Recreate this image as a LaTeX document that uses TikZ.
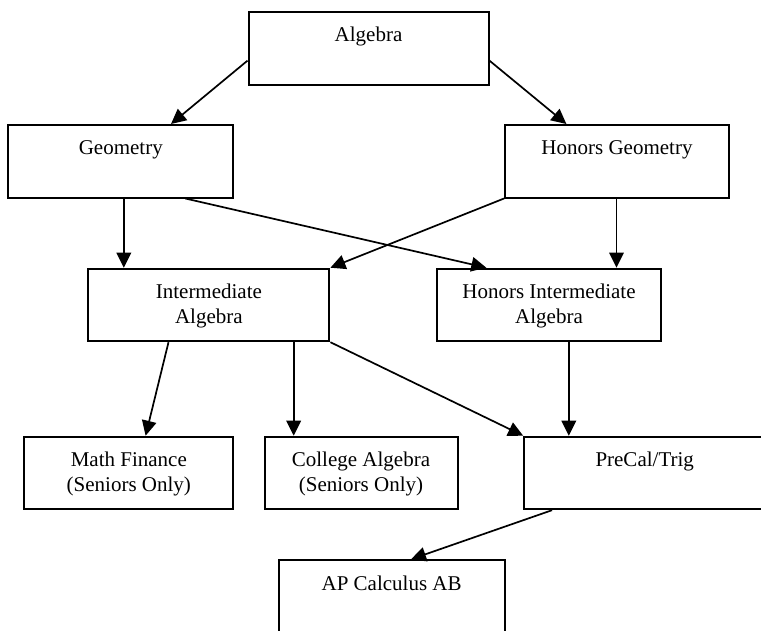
\documentclass[tikz,border=0pt]{standalone}
\usepackage{fontspec}
\setmainfont{Liberation Serif}
\usetikzlibrary{arrows.meta}

\newcommand{\coursefont}{\fontsize{21}{25}\selectfont}

\tikzset{
  course/.style={draw, line width=2pt, rectangle, anchor=north west,
    minimum height=72.5pt, inner sep=0pt},
  coursetext/.style={anchor=north, align=center, inner sep=0pt,
    yshift=-16pt, font=\coursefont},
  prereq/.style={line width=1.7pt, -{Triangle[length=15pt,width=14.5pt]}},
}

\begin{document}
\begin{tikzpicture}[x=1pt, y=-1pt]
        \path[use as bounding box, clip] (0,0) rectangle (761,630);

        % course boxes
        \node (alg) [course, minimum width=240pt, label={[coursetext]north:Algebra}] at (247.5,11) {};
        \node (geo) [course, minimum width=225pt, label={[coursetext]north:Geometry}] at (7.3,124) {};
        \node (hgeo) [course, minimum width=224pt, label={[coursetext]north:Honors Geometry}] at (504,124) {};
        \node (inter) [course, minimum width=241pt, label={[coursetext]north:Intermediate\\Algebra}] at (87.4,267.7) {};
        \node (hinter) [course, minimum width=224pt, label={[coursetext]north:Honors Intermediate\\Algebra}] at (436,267.7) {};
        \node (fin) [course, minimum width=209pt, label={[coursetext]north:Math Finance\\(Seniors Only)}] at (23.3,435.7) {};
        \node (coll) [course, minimum width=193pt, label={[coursetext]north:College Algebra\\(Seniors Only)}] at (263.5,435.7) {};
        \node (pre) [course, minimum width=241pt, label={[coursetext]north:PreCal/Trig}] at (523.2,435.7) {};
        \node (ap) [course, minimum width=226pt, minimum height=80pt, label={[coursetext]north:AP Calculus AB}] at (277.6,559.3) {};

        % prerequisites
        \draw[prereq] ([yshift=-12.4pt]alg.west) -- ([xshift=50.2pt]geo.north);
        \draw[prereq] ([yshift=-12.4pt]alg.east) -- ([xshift=-50.6pt]hgeo.north);
        \draw[prereq] ([xshift=3pt]geo.south) -- ([xshift=3pt]geo.south |- inter.north);
        \draw[prereq] ([xshift=64.6pt]geo.south) -- ([xshift=-62.7pt]hinter.north);
        \draw[prereq] (hgeo.south west) -- (inter.north east);
        \draw[prereq] ([xshift=-0.5pt]hgeo.south) -- ([xshift=-0.5pt]hgeo.south |- hinter.north);
        \draw[prereq] ([xshift=-40.4pt]inter.south) -- ([xshift=16.8pt]fin.north);
        \draw[prereq] ([xshift=84.8pt]inter.south) -- ([xshift=84.8pt]inter.south |- coll.north);
        \draw[prereq] (inter.south east) -- (pre.north west);
        \draw[prereq] ([xshift=19.8pt]hinter.south) -- ([xshift=19.8pt]hinter.south |- pre.north);
        \draw[prereq] ([xshift=-92.7pt]pre.south) -- ([xshift=19.4pt]ap.north);
\end{tikzpicture}
\end{document}
